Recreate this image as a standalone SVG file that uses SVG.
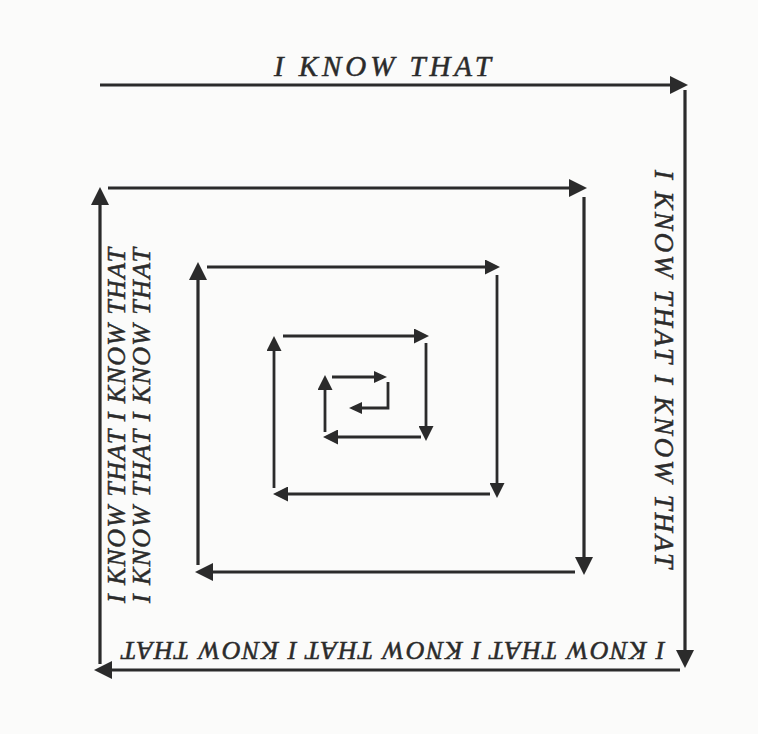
<svg xmlns="http://www.w3.org/2000/svg" width="758" height="734" viewBox="0 0 758 734">
<style>
.bg{fill:#fbfbfa}
.ln{fill:none;stroke:#2b2b2b;stroke-linecap:butt;stroke-linejoin:miter}
.o{stroke-width:3.2}
.i{stroke-width:2.8}
.t{font-family:"Liberation Serif","Times New Roman",serif;font-style:italic;fill:#2b2b2b;stroke:#2b2b2b;stroke-width:0.5}
</style>
<defs>
<marker id="ab" markerUnits="userSpaceOnUse" markerWidth="18" markerHeight="18" viewBox="0 0 18 18" refX="14" refY="9" orient="auto"><path d="M0,0 L18,9 L0,18 z" fill="#2b2b2b"/></marker>
<marker id="am" markerUnits="userSpaceOnUse" markerWidth="15" markerHeight="15" viewBox="0 0 15 15" refX="11" refY="7.5" orient="auto"><path d="M0,0 L15,7.5 L0,15 z" fill="#2b2b2b"/></marker>
<marker id="as" markerUnits="userSpaceOnUse" markerWidth="13" markerHeight="12" viewBox="0 0 13 12" refX="9" refY="6" orient="auto"><path d="M0,0 L13,6 L0,12 z" fill="#2b2b2b"/></marker>
</defs>
<rect class="bg" x="0" y="0" width="758" height="734"/>
<g id="connectors">
<g id="ring1">
<path class="ln o" d="M100,85 L684,85" marker-end="url(#ab)"/>
<path class="ln o" d="M685,90 L685,664" marker-end="url(#ab)"/>
<path class="ln o" d="M680,670 L98,670" marker-end="url(#ab)"/>
<path class="ln o" d="M100,664 L100,191" marker-end="url(#ab)"/>
</g>
<g id="ring2">
<path class="ln o" d="M108,188 L583,188" marker-end="url(#ab)"/>
<path class="ln o" d="M584,197 L584,571" marker-end="url(#ab)"/>
<path class="ln o" d="M575,572 L199,572" marker-end="url(#ab)"/>
<path class="ln o" d="M198,565 L198,266" marker-end="url(#ab)"/>
</g>
<g id="ring3">
<path class="ln i" d="M207,267 L496,267" marker-end="url(#am)"/>
<path class="ln i" d="M497,275 L497,494" marker-end="url(#am)"/>
<path class="ln i" d="M490,494 L277,494" marker-end="url(#am)"/>
<path class="ln i" d="M274,488 L274,340" marker-end="url(#am)"/>
</g>
<g id="ring4">
<path class="ln i" d="M283,336 L425,336" marker-end="url(#am)"/>
<path class="ln i" d="M426,343 L426,437" marker-end="url(#am)"/>
<path class="ln i" d="M421,437 L327,437" marker-end="url(#am)"/>
<path class="ln i" d="M325,432 L325,379" marker-end="url(#am)"/>
</g>
<g id="ring5">
<path class="ln i" d="M332,377 L383,377" marker-end="url(#as)"/>
<path class="ln i" d="M388,382 L388,408 L353,408" marker-end="url(#as)"/>
</g>
</g>
<g id="label-top"><text class="t" x="274" y="76" font-size="29" textLength="217" lengthAdjust="spacing">I KNOW THAT</text></g>
<g id="label-right"><text class="t" transform="translate(655,170) rotate(90)" font-size="27" textLength="398" lengthAdjust="spacing">I KNOW THAT I KNOW THAT</text></g>
<g id="label-bottom"><text class="t" transform="translate(665,642) rotate(180)" font-size="26" textLength="543" lengthAdjust="spacing">I KNOW THAT I KNOW THAT I KNOW THAT</text></g>
<g id="label-left-1"><text class="t" transform="translate(125,603) rotate(-90)" font-size="26" textLength="355" lengthAdjust="spacing">I KNOW THAT I KNOW THAT</text></g>
<g id="label-left-2"><text class="t" transform="translate(150,603) rotate(-90)" font-size="26" textLength="355" lengthAdjust="spacing">I KNOW THAT I KNOW THAT</text></g>
</svg>
